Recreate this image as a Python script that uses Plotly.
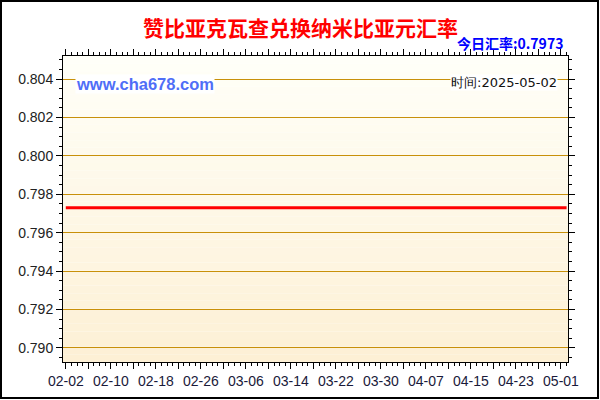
import pandas as pd
import plotly.graph_objects as go

# daily rate, 2025-02-02 .. 2025-05-02
dates = pd.date_range("2025-02-02", "2025-05-02", freq="D")
rates = [
    0.7973, 0.7973, 0.7973, 0.7973, 0.7973, 0.7973, 0.7973, 0.7973, 0.7973, 0.7973,
    0.7973, 0.7973, 0.7973, 0.7973, 0.7973, 0.7973, 0.7973, 0.7973, 0.7973, 0.7973,
    0.7973, 0.7973, 0.7973, 0.7973, 0.7973, 0.7973, 0.7973, 0.7973, 0.7973, 0.7973,
    0.7973, 0.7973, 0.7973, 0.7973, 0.7973, 0.7973, 0.7973, 0.7973, 0.7973, 0.7973,
    0.7973, 0.7973, 0.7973, 0.7973, 0.7973, 0.7973, 0.7973, 0.7973, 0.7973, 0.7973,
    0.7973, 0.7973, 0.7973, 0.7973, 0.7973, 0.7973, 0.7973, 0.7973, 0.7973, 0.7973,
    0.7973, 0.7973, 0.7973, 0.7973, 0.7973, 0.7973, 0.7973, 0.7973, 0.7973, 0.7973,
    0.7973, 0.7973, 0.7973, 0.7973, 0.7973, 0.7973, 0.7973, 0.7973, 0.7973, 0.7973,
    0.7973, 0.7973, 0.7973, 0.7973, 0.7973, 0.7973, 0.7973, 0.7973, 0.7973, 0.7973,
]
rates = rates[:len(dates)]

# x ticks every 4 days, label every other one
tick_dates = pd.date_range("2025-02-02", "2025-05-01", freq="4D")
tick_labels = [d.strftime("%m-%d") if i % 2 == 0 else "" for i, d in enumerate(tick_dates)]
y_ticks = [0.790, 0.792, 0.794, 0.796, 0.798, 0.800, 0.802, 0.804]

title = "赞比亚克瓦查兑换纳米比亚元汇率"
today_text = "今日汇率:0.7973"
site_text = "www.cha678.com"
time_text = "时间:2025-05-02"

W, H = 600, 400
L, R, T, B = 63, 32, 56, 38
pw, ph = W - L - R, H - T - B

fig = go.Figure()
fig.add_trace(go.Scatter(
    x=dates, y=rates, mode="lines",
    line=dict(color="#FF0000", width=3),
    hoverinfo="x+y", showlegend=False,
))

# background gradient (white -> pale yellow) as thin stripes
shapes = []
n = 40
top_c = (255, 255, 248)
bot_c = (253, 240, 213)
for i in range(n):
    f = i / (n - 1)
    c = tuple(round(top_c[k] + (bot_c[k] - top_c[k]) * f) for k in range(3))
    shapes.append(dict(
        type="rect", xref="paper", yref="paper",
        x0=0, x1=1, y0=1 - (i + 1) / n, y1=1 - i / n,
        fillcolor="rgb(%d,%d,%d)" % c, line=dict(width=0), layer="below",
    ))
# outer frame
shapes.append(dict(
    type="rect", xref="paper", yref="paper",
    x0=(1 - L) / pw, x1=(W - 2 - L) / pw,
    y0=-(H - 2 - T - ph) / ph, y1=1 + (T - 1) / ph,
    line=dict(color="black", width=2), fillcolor="rgba(0,0,0,0)",
))

annotations = [
    dict(text="<b>%s</b>" % title, xref="paper", yref="paper",
         x=(300 - L) / pw, y=1 + (T - 27) / ph, showarrow=False,
         font=dict(family="Noto Sans CJK SC", size=21, color="#FF0000"),
         xanchor="center", yanchor="middle"),
    dict(text="<b>%s</b>" % today_text, xref="paper", yref="paper",
         x=(565 - L) / pw, y=1 + (T - 43) / ph, showarrow=False,
         font=dict(family="Noto Sans CJK SC", size=14, color="#0000FF"),
         xanchor="right", yanchor="middle"),
    dict(text="<b>%s</b>" % site_text, xref="paper", yref="paper",
         x=(75 - L) / pw, y=1 - (84 - T) / ph, showarrow=False,
         font=dict(family="Liberation Sans", size=16.5, color="#4F6EF7"),
         bgcolor="white", borderpad=0,
         xanchor="left", yanchor="middle"),
    dict(text=time_text, xref="paper", yref="paper",
         x=(558 - L) / pw, y=1 - (82 - T) / ph, showarrow=False,
         font=dict(family="DejaVu Sans", size=13, color="#111111"),
         bgcolor="white", borderpad=0,
         xanchor="right", yanchor="middle"),
]

fig.update_layout(
    width=W, height=H,
    margin=dict(l=L, r=R, t=T, b=B),
    paper_bgcolor="white",
    plot_bgcolor="rgba(0,0,0,0)",
    shapes=shapes,
    annotations=annotations,
    font=dict(family="Liberation Sans", size=14, color="#222222"),
)
fig.update_xaxes(
    range=["2025-02-01 12:00", "2025-05-02 06:00"],
    tickvals=tick_dates, ticktext=tick_labels,
    ticks="outside", ticklen=6, tickcolor="black",
    showline=True, linecolor="black", linewidth=1, mirror="ticks",
    showgrid=False, zeroline=False,
    minor=dict(dtick=86400000, ticks="outside", ticklen=3, tickcolor="black"),
    tickfont=dict(size=14, color="#1a1a3a"),
)
fig.update_yaxes(
    range=[0.78927, 0.80520],
    tickvals=y_ticks, ticktext=["%.3f" % v for v in y_ticks],
    ticks="outside", ticklen=6, tickcolor="black",
    showline=True, linecolor="black", linewidth=1, mirror="ticks",
    showgrid=True, gridcolor="#C8900A", gridwidth=1, zeroline=False,
    minor=dict(dtick=0.0005, tick0=0.790, ticks="outside", ticklen=3,
               tickcolor="black", showgrid=False),
    tickfont=dict(size=14, color="#222222"),
)

# page body has a default 8px margin; drop it so the figure sits at 0,0
fig.write_html("out.html", config={"displayModeBar": False},
               post_script="document.body.style.margin='0';")
